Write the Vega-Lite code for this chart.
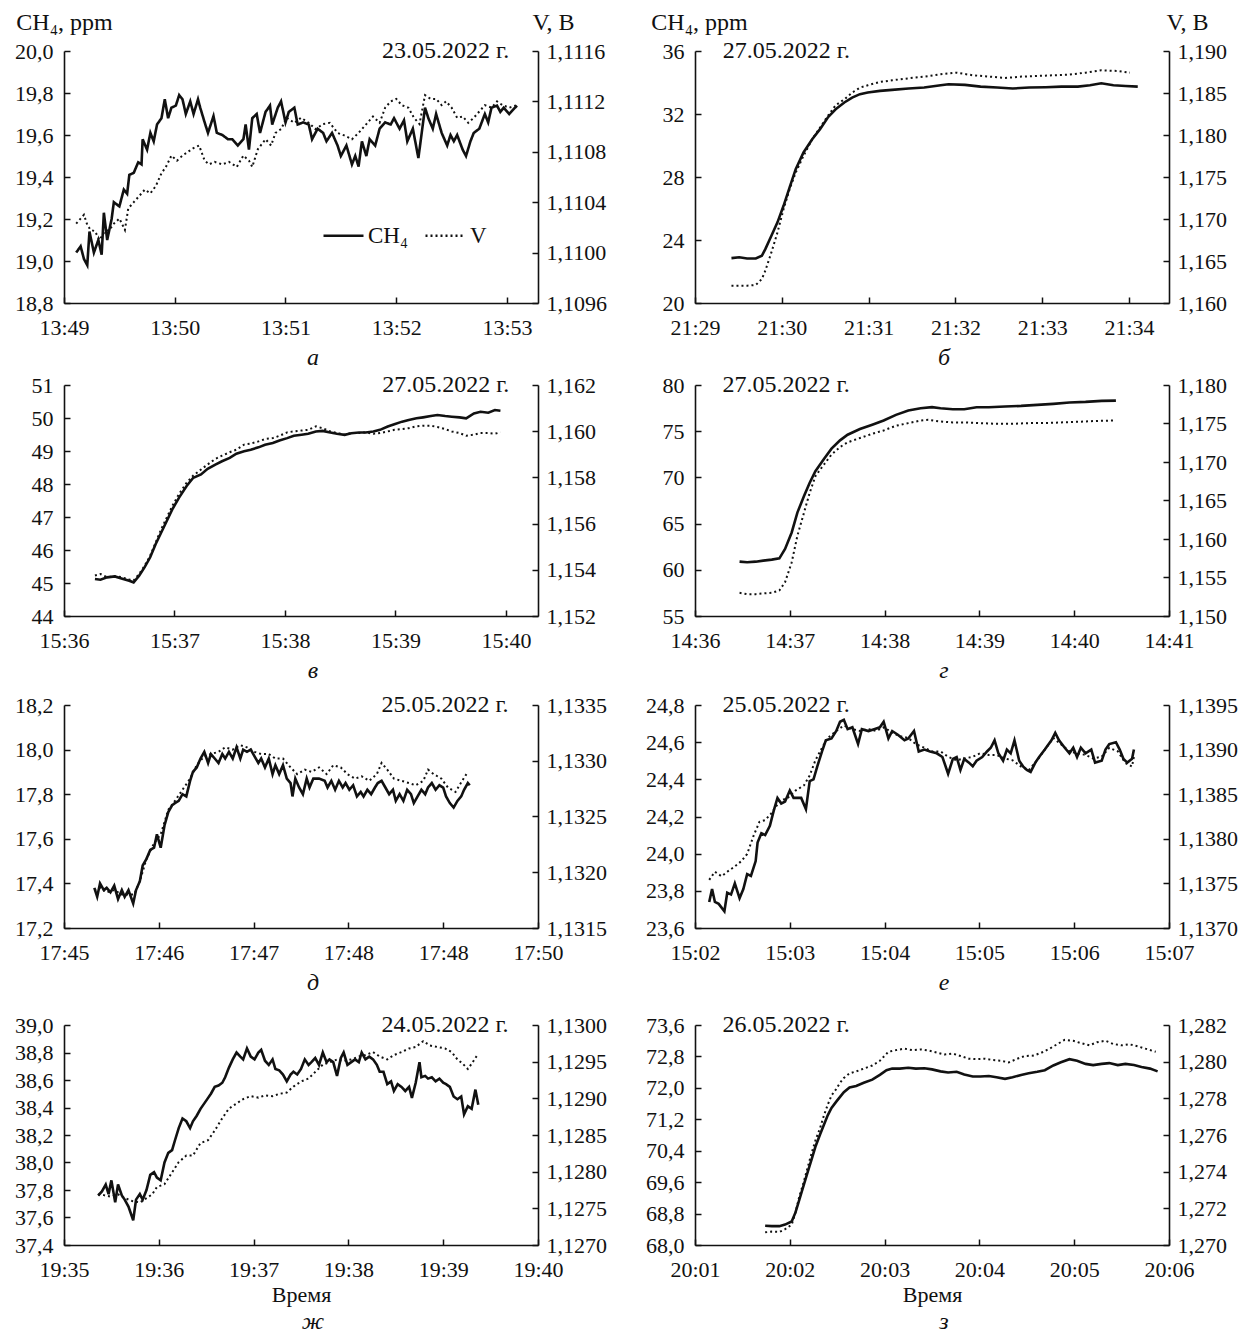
{
"$schema": "https://vega.github.io/schema/vega-lite/v6.json",
"background": "white",
"padding": {"left": 14, "top": 10, "right": 5, "bottom": 0},
"columns": 2,
"align": "each",
"spacing": {"row": 3, "column": 38},
"resolve": {"scale": {"x": "independent", "y": "independent"}},
"datasets": {
"a_c": [{"t":0.11,"y":19.04},{"t":0.15,"y":19.07},{"t":0.18,"y":19.01},{"t":0.21,"y":18.98},{"t":0.23,"y":19.14},{"t":0.27,"y":19.04},{"t":0.31,"y":19.10},{"t":0.34,"y":19.03},{"t":0.36,"y":19.23},{"t":0.39,"y":19.10},{"t":0.43,"y":19.20},{"t":0.45,"y":19.28},{"t":0.50,"y":19.26},{"t":0.54,"y":19.34},{"t":0.57,"y":19.32},{"t":0.59,"y":19.41},{"t":0.63,"y":19.42},{"t":0.67,"y":19.47},{"t":0.70,"y":19.46},{"t":0.71,"y":19.58},{"t":0.75,"y":19.53},{"t":0.78,"y":19.61},{"t":0.81,"y":19.57},{"t":0.84,"y":19.65},{"t":0.88,"y":19.68},{"t":0.91,"y":19.77},{"t":0.94,"y":19.68},{"t":0.97,"y":19.73},{"t":1.01,"y":19.74},{"t":1.04,"y":19.79},{"t":1.07,"y":19.77},{"t":1.10,"y":19.70},{"t":1.14,"y":19.76},{"t":1.17,"y":19.70},{"t":1.21,"y":19.77},{"t":1.23,"y":19.73},{"t":1.27,"y":19.66},{"t":1.30,"y":19.61},{"t":1.35,"y":19.69},{"t":1.38,"y":19.61},{"t":1.43,"y":19.60},{"t":1.48,"y":19.58},{"t":1.52,"y":19.58},{"t":1.57,"y":19.55},{"t":1.62,"y":19.58},{"t":1.64,"y":19.65},{"t":1.67,"y":19.53},{"t":1.70,"y":19.68},{"t":1.74,"y":19.70},{"t":1.77,"y":19.61},{"t":1.82,"y":19.71},{"t":1.86,"y":19.74},{"t":1.88,"y":19.65},{"t":1.93,"y":19.73},{"t":1.96,"y":19.76},{"t":2.00,"y":19.66},{"t":2.03,"y":19.71},{"t":2.08,"y":19.73},{"t":2.11,"y":19.65},{"t":2.16,"y":19.66},{"t":2.21,"y":19.65},{"t":2.24,"y":19.58},{"t":2.29,"y":19.63},{"t":2.34,"y":19.61},{"t":2.37,"y":19.57},{"t":2.42,"y":19.61},{"t":2.47,"y":19.55},{"t":2.50,"y":19.50},{"t":2.55,"y":19.55},{"t":2.60,"y":19.46},{"t":2.63,"y":19.50},{"t":2.66,"y":19.45},{"t":2.69,"y":19.57},{"t":2.73,"y":19.50},{"t":2.76,"y":19.58},{"t":2.81,"y":19.55},{"t":2.85,"y":19.63},{"t":2.90,"y":19.66},{"t":2.95,"y":19.65},{"t":2.98,"y":19.68},{"t":3.03,"y":19.63},{"t":3.07,"y":19.67},{"t":3.10,"y":19.57},{"t":3.15,"y":19.63},{"t":3.20,"y":19.49},{"t":3.23,"y":19.61},{"t":3.26,"y":19.73},{"t":3.29,"y":19.68},{"t":3.33,"y":19.63},{"t":3.36,"y":19.70},{"t":3.41,"y":19.61},{"t":3.46,"y":19.55},{"t":3.49,"y":19.60},{"t":3.52,"y":19.57},{"t":3.55,"y":19.60},{"t":3.60,"y":19.53},{"t":3.63,"y":19.50},{"t":3.67,"y":19.57},{"t":3.70,"y":19.61},{"t":3.75,"y":19.63},{"t":3.80,"y":19.70},{"t":3.83,"y":19.66},{"t":3.86,"y":19.73},{"t":3.91,"y":19.74},{"t":3.94,"y":19.71},{"t":3.97,"y":19.73},{"t":4.02,"y":19.70},{"t":4.09,"y":19.74}],
"a_v": [{"t":0.11,"y":1.11023},{"t":0.15,"y":1.11027},{"t":0.18,"y":1.1103},{"t":0.21,"y":1.11022},{"t":0.24,"y":1.11018},{"t":0.28,"y":1.11017},{"t":0.32,"y":1.1101},{"t":0.37,"y":1.11017},{"t":0.41,"y":1.11018},{"t":0.45,"y":1.11023},{"t":0.50,"y":1.11027},{"t":0.55,"y":1.11018},{"t":0.58,"y":1.11035},{"t":0.63,"y":1.1104},{"t":0.68,"y":1.11045},{"t":0.73,"y":1.1105},{"t":0.78,"y":1.11047},{"t":0.83,"y":1.11053},{"t":0.88,"y":1.11063},{"t":0.92,"y":1.11068},{"t":0.97,"y":1.11077},{"t":1.02,"y":1.11073},{"t":1.07,"y":1.11077},{"t":1.12,"y":1.1108},{"t":1.17,"y":1.11083},{"t":1.22,"y":1.11085},{"t":1.27,"y":1.11073},{"t":1.31,"y":1.1107},{"t":1.36,"y":1.11072},{"t":1.43,"y":1.1107},{"t":1.49,"y":1.11072},{"t":1.56,"y":1.11068},{"t":1.62,"y":1.11077},{"t":1.67,"y":1.11073},{"t":1.70,"y":1.11068},{"t":1.75,"y":1.11082},{"t":1.82,"y":1.1109},{"t":1.87,"y":1.11085},{"t":1.91,"y":1.11095},{"t":1.96,"y":1.11098},{"t":2.01,"y":1.11107},{"t":2.08,"y":1.11103},{"t":2.14,"y":1.11107},{"t":2.21,"y":1.11103},{"t":2.27,"y":1.11098},{"t":2.34,"y":1.11102},{"t":2.40,"y":1.11103},{"t":2.47,"y":1.11095},{"t":2.53,"y":1.11093},{"t":2.60,"y":1.1109},{"t":2.66,"y":1.11095},{"t":2.73,"y":1.11102},{"t":2.79,"y":1.11108},{"t":2.85,"y":1.11103},{"t":2.90,"y":1.11115},{"t":2.95,"y":1.1112},{"t":3.00,"y":1.11122},{"t":3.05,"y":1.11117},{"t":3.11,"y":1.11115},{"t":3.16,"y":1.11107},{"t":3.21,"y":1.11102},{"t":3.26,"y":1.11125},{"t":3.31,"y":1.11122},{"t":3.36,"y":1.11122},{"t":3.41,"y":1.11117},{"t":3.45,"y":1.1112},{"t":3.50,"y":1.11115},{"t":3.55,"y":1.11107},{"t":3.60,"y":1.11108},{"t":3.65,"y":1.11103},{"t":3.70,"y":1.11107},{"t":3.75,"y":1.11112},{"t":3.80,"y":1.11117},{"t":3.86,"y":1.11115},{"t":3.91,"y":1.1112},{"t":3.96,"y":1.11117},{"t":4.02,"y":1.11115},{"t":4.09,"y":1.11117}],
"b_c": [{"t":0.42,"y":22.85},{"t":0.51,"y":22.9},{"t":0.60,"y":22.83},{"t":0.70,"y":22.83},{"t":0.77,"y":23.0},{"t":0.81,"y":23.42},{"t":0.88,"y":24.27},{"t":0.95,"y":25.12},{"t":1.02,"y":26.17},{"t":1.09,"y":27.34},{"t":1.16,"y":28.5},{"t":1.25,"y":29.56},{"t":1.35,"y":30.4},{"t":1.44,"y":31.04},{"t":1.53,"y":31.78},{"t":1.62,"y":32.3},{"t":1.72,"y":32.73},{"t":1.81,"y":33.04},{"t":1.90,"y":33.26},{"t":1.99,"y":33.36},{"t":2.13,"y":33.47},{"t":2.27,"y":33.53},{"t":2.46,"y":33.62},{"t":2.64,"y":33.68},{"t":2.83,"y":33.83},{"t":2.92,"y":33.89},{"t":3.11,"y":33.85},{"t":3.29,"y":33.74},{"t":3.48,"y":33.68},{"t":3.66,"y":33.62},{"t":3.85,"y":33.68},{"t":4.04,"y":33.7},{"t":4.22,"y":33.74},{"t":4.41,"y":33.74},{"t":4.55,"y":33.83},{"t":4.68,"y":33.95},{"t":4.82,"y":33.83},{"t":4.96,"y":33.78},{"t":5.10,"y":33.74}],
"b_v": [{"t":0.42,"y":1.16206},{"t":0.51,"y":1.16206},{"t":0.60,"y":1.16206},{"t":0.70,"y":1.16214},{"t":0.77,"y":1.16285},{"t":0.81,"y":1.16384},{"t":0.88,"y":1.16602},{"t":0.95,"y":1.1684},{"t":1.02,"y":1.17118},{"t":1.09,"y":1.17355},{"t":1.16,"y":1.17553},{"t":1.25,"y":1.17752},{"t":1.35,"y":1.1795},{"t":1.44,"y":1.18088},{"t":1.53,"y":1.18227},{"t":1.62,"y":1.18354},{"t":1.72,"y":1.18425},{"t":1.81,"y":1.18505},{"t":1.90,"y":1.18564},{"t":1.99,"y":1.18592},{"t":2.13,"y":1.18631},{"t":2.27,"y":1.18651},{"t":2.46,"y":1.18675},{"t":2.64,"y":1.18695},{"t":2.83,"y":1.18723},{"t":3.01,"y":1.18742},{"t":3.20,"y":1.18711},{"t":3.39,"y":1.18695},{"t":3.57,"y":1.18679},{"t":3.76,"y":1.18695},{"t":3.94,"y":1.18703},{"t":4.13,"y":1.18711},{"t":4.31,"y":1.18719},{"t":4.50,"y":1.18742},{"t":4.68,"y":1.1877},{"t":4.87,"y":1.18762},{"t":5.01,"y":1.18742}],
"c_c": [{"t":0.28,"y":45.12},{"t":0.33,"y":45.10},{"t":0.39,"y":45.17},{"t":0.46,"y":45.20},{"t":0.52,"y":45.14},{"t":0.59,"y":45.07},{"t":0.63,"y":45.02},{"t":0.68,"y":45.22},{"t":0.73,"y":45.48},{"t":0.78,"y":45.78},{"t":0.83,"y":46.18},{"t":0.88,"y":46.53},{"t":0.93,"y":46.88},{"t":0.98,"y":47.23},{"t":1.04,"y":47.58},{"t":1.11,"y":47.94},{"t":1.17,"y":48.19},{"t":1.24,"y":48.29},{"t":1.30,"y":48.46},{"t":1.37,"y":48.59},{"t":1.43,"y":48.69},{"t":1.50,"y":48.79},{"t":1.56,"y":48.92},{"t":1.63,"y":48.99},{"t":1.69,"y":49.04},{"t":1.76,"y":49.11},{"t":1.82,"y":49.19},{"t":1.89,"y":49.24},{"t":1.95,"y":49.32},{"t":2.02,"y":49.39},{"t":2.08,"y":49.46},{"t":2.15,"y":49.49},{"t":2.21,"y":49.52},{"t":2.28,"y":49.59},{"t":2.34,"y":49.61},{"t":2.41,"y":49.56},{"t":2.47,"y":49.52},{"t":2.54,"y":49.49},{"t":2.60,"y":49.54},{"t":2.67,"y":49.56},{"t":2.73,"y":49.56},{"t":2.80,"y":49.59},{"t":2.86,"y":49.64},{"t":2.93,"y":49.74},{"t":2.99,"y":49.81},{"t":3.06,"y":49.89},{"t":3.12,"y":49.94},{"t":3.19,"y":49.99},{"t":3.25,"y":50.02},{"t":3.32,"y":50.06},{"t":3.38,"y":50.09},{"t":3.45,"y":50.06},{"t":3.51,"y":50.04},{"t":3.58,"y":50.02},{"t":3.64,"y":49.99},{"t":3.71,"y":50.14},{"t":3.77,"y":50.19},{"t":3.84,"y":50.16},{"t":3.90,"y":50.24},{"t":3.95,"y":50.22}],
"c_v": [{"t":0.28,"y":1.15375},{"t":0.33,"y":1.15382},{"t":0.39,"y":1.15368},{"t":0.46,"y":1.15372},{"t":0.52,"y":1.15368},{"t":0.59,"y":1.15358},{"t":0.63,"y":1.15354},{"t":0.68,"y":1.15382},{"t":0.73,"y":1.15418},{"t":0.78,"y":1.15461},{"t":0.83,"y":1.15519},{"t":0.88,"y":1.15576},{"t":0.93,"y":1.15626},{"t":0.98,"y":1.15676},{"t":1.04,"y":1.15727},{"t":1.11,"y":1.15777},{"t":1.17,"y":1.15808},{"t":1.24,"y":1.15834},{"t":1.30,"y":1.15856},{"t":1.37,"y":1.1588},{"t":1.43,"y":1.15894},{"t":1.50,"y":1.15909},{"t":1.56,"y":1.1592},{"t":1.63,"y":1.15942},{"t":1.69,"y":1.15946},{"t":1.76,"y":1.15956},{"t":1.82,"y":1.15966},{"t":1.89,"y":1.1597},{"t":1.95,"y":1.1598},{"t":2.02,"y":1.15995},{"t":2.08,"y":1.15999},{"t":2.15,"y":1.16003},{"t":2.21,"y":1.16006},{"t":2.28,"y":1.16021},{"t":2.34,"y":1.16013},{"t":2.41,"y":1.15999},{"t":2.47,"y":1.15992},{"t":2.54,"y":1.15985},{"t":2.60,"y":1.15992},{"t":2.67,"y":1.15992},{"t":2.73,"y":1.15995},{"t":2.80,"y":1.15989},{"t":2.86,"y":1.15992},{"t":2.93,"y":1.15999},{"t":2.99,"y":1.16006},{"t":3.06,"y":1.16009},{"t":3.12,"y":1.16013},{"t":3.19,"y":1.16021},{"t":3.25,"y":1.16024},{"t":3.32,"y":1.16024},{"t":3.38,"y":1.16018},{"t":3.45,"y":1.16009},{"t":3.51,"y":1.15999},{"t":3.58,"y":1.15992},{"t":3.64,"y":1.1598},{"t":3.71,"y":1.15985},{"t":3.77,"y":1.15992},{"t":3.84,"y":1.15992},{"t":3.90,"y":1.15989},{"t":3.95,"y":1.15995}],
"d_c": [{"t":0.47,"y":60.88},{"t":0.55,"y":60.81},{"t":0.64,"y":60.88},{"t":0.72,"y":60.99},{"t":0.81,"y":61.10},{"t":0.89,"y":61.24},{"t":0.95,"y":62.25},{"t":1.02,"y":64.04},{"t":1.08,"y":66.19},{"t":1.15,"y":67.98},{"t":1.21,"y":69.42},{"t":1.27,"y":70.67},{"t":1.36,"y":72.0},{"t":1.44,"y":73.11},{"t":1.53,"y":74.01},{"t":1.61,"y":74.62},{"t":1.74,"y":75.23},{"t":1.87,"y":75.7},{"t":1.99,"y":76.16},{"t":2.12,"y":76.77},{"t":2.25,"y":77.24},{"t":2.38,"y":77.49},{"t":2.50,"y":77.6},{"t":2.59,"y":77.49},{"t":2.72,"y":77.38},{"t":2.84,"y":77.38},{"t":2.97,"y":77.6},{"t":3.10,"y":77.6},{"t":3.27,"y":77.67},{"t":3.44,"y":77.74},{"t":3.61,"y":77.85},{"t":3.78,"y":77.96},{"t":3.95,"y":78.1},{"t":4.12,"y":78.17},{"t":4.29,"y":78.28},{"t":4.44,"y":78.31}],
"d_v": [{"t":0.47,"y":1.15301},{"t":0.55,"y":1.15284},{"t":0.64,"y":1.15284},{"t":0.72,"y":1.15293},{"t":0.81,"y":1.15301},{"t":0.89,"y":1.15331},{"t":0.95,"y":1.15439},{"t":1.02,"y":1.15697},{"t":1.08,"y":1.16042},{"t":1.15,"y":1.16343},{"t":1.21,"y":1.16601},{"t":1.27,"y":1.16816},{"t":1.36,"y":1.16967},{"t":1.44,"y":1.17096},{"t":1.53,"y":1.17195},{"t":1.61,"y":1.17255},{"t":1.74,"y":1.17311},{"t":1.87,"y":1.17367},{"t":1.99,"y":1.1741},{"t":2.12,"y":1.17471},{"t":2.25,"y":1.17505},{"t":2.38,"y":1.17539},{"t":2.46,"y":1.17548},{"t":2.59,"y":1.17526},{"t":2.72,"y":1.17514},{"t":2.84,"y":1.17514},{"t":3.01,"y":1.17505},{"t":3.18,"y":1.17496},{"t":3.35,"y":1.17496},{"t":3.52,"y":1.17505},{"t":3.69,"y":1.17505},{"t":3.86,"y":1.17514},{"t":4.03,"y":1.17522},{"t":4.20,"y":1.17531},{"t":4.41,"y":1.17539}],
"e_c": [{"t":0.32,"y":17.38},{"t":0.35,"y":17.34},{"t":0.38,"y":17.40},{"t":0.42,"y":17.37},{"t":0.45,"y":17.38},{"t":0.49,"y":17.36},{"t":0.53,"y":17.39},{"t":0.57,"y":17.33},{"t":0.61,"y":17.37},{"t":0.64,"y":17.34},{"t":0.68,"y":17.37},{"t":0.73,"y":17.31},{"t":0.76,"y":17.37},{"t":0.80,"y":17.41},{"t":0.83,"y":17.48},{"t":0.87,"y":17.51},{"t":0.91,"y":17.55},{"t":0.95,"y":17.56},{"t":0.98,"y":17.62},{"t":1.02,"y":17.56},{"t":1.06,"y":17.66},{"t":1.10,"y":17.72},{"t":1.14,"y":17.75},{"t":1.17,"y":17.76},{"t":1.21,"y":17.77},{"t":1.25,"y":17.80},{"t":1.29,"y":17.79},{"t":1.33,"y":17.86},{"t":1.36,"y":17.90},{"t":1.40,"y":17.92},{"t":1.44,"y":17.96},{"t":1.48,"y":17.99},{"t":1.52,"y":17.94},{"t":1.55,"y":17.98},{"t":1.59,"y":17.96},{"t":1.63,"y":17.94},{"t":1.67,"y":17.98},{"t":1.70,"y":17.96},{"t":1.74,"y":17.99},{"t":1.78,"y":17.96},{"t":1.82,"y":18.01},{"t":1.86,"y":17.96},{"t":1.89,"y":18.00},{"t":1.93,"y":17.99},{"t":1.97,"y":18.00},{"t":2.01,"y":17.97},{"t":2.05,"y":17.94},{"t":2.08,"y":17.96},{"t":2.12,"y":17.92},{"t":2.16,"y":17.96},{"t":2.20,"y":17.89},{"t":2.23,"y":17.93},{"t":2.27,"y":17.89},{"t":2.31,"y":17.93},{"t":2.35,"y":17.87},{"t":2.39,"y":17.85},{"t":2.41,"y":17.79},{"t":2.44,"y":17.87},{"t":2.48,"y":17.83},{"t":2.52,"y":17.80},{"t":2.56,"y":17.87},{"t":2.59,"y":17.83},{"t":2.63,"y":17.87},{"t":2.69,"y":17.87},{"t":2.75,"y":17.86},{"t":2.78,"y":17.83},{"t":2.82,"y":17.86},{"t":2.86,"y":17.82},{"t":2.90,"y":17.86},{"t":2.94,"y":17.83},{"t":2.97,"y":17.85},{"t":3.01,"y":17.82},{"t":3.05,"y":17.84},{"t":3.09,"y":17.79},{"t":3.13,"y":17.81},{"t":3.16,"y":17.79},{"t":3.20,"y":17.82},{"t":3.24,"y":17.80},{"t":3.28,"y":17.83},{"t":3.31,"y":17.85},{"t":3.35,"y":17.86},{"t":3.39,"y":17.83},{"t":3.43,"y":17.80},{"t":3.47,"y":17.82},{"t":3.50,"y":17.77},{"t":3.54,"y":17.80},{"t":3.58,"y":17.77},{"t":3.62,"y":17.82},{"t":3.66,"y":17.80},{"t":3.69,"y":17.76},{"t":3.73,"y":17.79},{"t":3.77,"y":17.82},{"t":3.81,"y":17.80},{"t":3.84,"y":17.83},{"t":3.88,"y":17.85},{"t":3.92,"y":17.82},{"t":3.96,"y":17.84},{"t":4.00,"y":17.83},{"t":4.03,"y":17.79},{"t":4.07,"y":17.76},{"t":4.11,"y":17.74},{"t":4.15,"y":17.77},{"t":4.19,"y":17.79},{"t":4.22,"y":17.82},{"t":4.26,"y":17.85},{"t":4.28,"y":17.84}],
"e_v": [{"t":0.32,"y":1.13184},{"t":0.38,"y":1.13186},{"t":0.45,"y":1.13182},{"t":0.53,"y":1.13184},{"t":0.61,"y":1.1318},{"t":0.68,"y":1.1318},{"t":0.74,"y":1.1318},{"t":0.80,"y":1.13192},{"t":0.87,"y":1.13212},{"t":0.95,"y":1.13226},{"t":1.02,"y":1.13234},{"t":1.10,"y":1.13256},{"t":1.17,"y":1.13264},{"t":1.25,"y":1.13274},{"t":1.33,"y":1.13284},{"t":1.40,"y":1.13296},{"t":1.48,"y":1.13304},{"t":1.55,"y":1.13306},{"t":1.63,"y":1.13308},{"t":1.70,"y":1.13312},{"t":1.78,"y":1.1331},{"t":1.86,"y":1.13314},{"t":1.93,"y":1.13312},{"t":2.01,"y":1.13308},{"t":2.08,"y":1.13306},{"t":2.16,"y":1.13306},{"t":2.23,"y":1.13302},{"t":2.31,"y":1.13302},{"t":2.39,"y":1.13294},{"t":2.46,"y":1.13288},{"t":2.54,"y":1.13292},{"t":2.61,"y":1.1329},{"t":2.69,"y":1.13294},{"t":2.77,"y":1.13288},{"t":2.84,"y":1.13296},{"t":2.92,"y":1.13294},{"t":2.99,"y":1.13288},{"t":3.07,"y":1.13284},{"t":3.14,"y":1.13286},{"t":3.22,"y":1.13282},{"t":3.30,"y":1.13288},{"t":3.35,"y":1.13298},{"t":3.41,"y":1.13292},{"t":3.48,"y":1.13284},{"t":3.56,"y":1.13282},{"t":3.64,"y":1.1328},{"t":3.71,"y":1.13278},{"t":3.79,"y":1.13282},{"t":3.84,"y":1.13292},{"t":3.90,"y":1.13288},{"t":3.98,"y":1.13284},{"t":4.05,"y":1.13276},{"t":4.13,"y":1.13272},{"t":4.20,"y":1.13282},{"t":4.26,"y":1.1329}],
"f_c": [{"t":0.15,"y":23.74},{"t":0.18,"y":23.81},{"t":0.21,"y":23.74},{"t":0.25,"y":23.73},{"t":0.31,"y":23.69},{"t":0.34,"y":23.79},{"t":0.38,"y":23.78},{"t":0.42,"y":23.84},{"t":0.47,"y":23.76},{"t":0.51,"y":23.81},{"t":0.55,"y":23.89},{"t":0.59,"y":23.88},{"t":0.64,"y":23.96},{"t":0.66,"y":24.06},{"t":0.70,"y":24.11},{"t":0.74,"y":24.10},{"t":0.79,"y":24.15},{"t":0.83,"y":24.23},{"t":0.87,"y":24.30},{"t":0.91,"y":24.27},{"t":0.95,"y":24.28},{"t":1.00,"y":24.34},{"t":1.04,"y":24.30},{"t":1.08,"y":24.30},{"t":1.12,"y":24.30},{"t":1.17,"y":24.24},{"t":1.21,"y":24.39},{"t":1.25,"y":24.40},{"t":1.29,"y":24.47},{"t":1.34,"y":24.55},{"t":1.38,"y":24.61},{"t":1.44,"y":24.62},{"t":1.49,"y":24.66},{"t":1.53,"y":24.71},{"t":1.57,"y":24.72},{"t":1.61,"y":24.67},{"t":1.66,"y":24.68},{"t":1.72,"y":24.59},{"t":1.76,"y":24.67},{"t":1.83,"y":24.66},{"t":1.89,"y":24.67},{"t":1.95,"y":24.68},{"t":1.99,"y":24.71},{"t":2.04,"y":24.62},{"t":2.08,"y":24.66},{"t":2.14,"y":24.64},{"t":2.21,"y":24.61},{"t":2.25,"y":24.62},{"t":2.31,"y":24.66},{"t":2.36,"y":24.55},{"t":2.42,"y":24.56},{"t":2.48,"y":24.55},{"t":2.55,"y":24.54},{"t":2.61,"y":24.52},{"t":2.67,"y":24.43},{"t":2.72,"y":24.51},{"t":2.76,"y":24.52},{"t":2.80,"y":24.45},{"t":2.84,"y":24.51},{"t":2.89,"y":24.49},{"t":2.93,"y":24.47},{"t":2.97,"y":24.50},{"t":3.03,"y":24.52},{"t":3.08,"y":24.55},{"t":3.12,"y":24.57},{"t":3.16,"y":24.61},{"t":3.20,"y":24.54},{"t":3.25,"y":24.50},{"t":3.29,"y":24.56},{"t":3.33,"y":24.54},{"t":3.37,"y":24.61},{"t":3.42,"y":24.50},{"t":3.46,"y":24.47},{"t":3.50,"y":24.45},{"t":3.54,"y":24.44},{"t":3.59,"y":24.49},{"t":3.63,"y":24.52},{"t":3.69,"y":24.56},{"t":3.76,"y":24.61},{"t":3.80,"y":24.65},{"t":3.84,"y":24.61},{"t":3.90,"y":24.57},{"t":3.95,"y":24.54},{"t":3.99,"y":24.57},{"t":4.03,"y":24.52},{"t":4.07,"y":24.57},{"t":4.12,"y":24.54},{"t":4.18,"y":24.56},{"t":4.22,"y":24.49},{"t":4.29,"y":24.50},{"t":4.33,"y":24.56},{"t":4.37,"y":24.59},{"t":4.44,"y":24.60},{"t":4.48,"y":24.56},{"t":4.52,"y":24.51},{"t":4.56,"y":24.49},{"t":4.61,"y":24.51},{"t":4.63,"y":24.56}],
"f_v": [{"t":0.15,"y":1.13754},{"t":0.21,"y":1.13763},{"t":0.28,"y":1.13758},{"t":0.34,"y":1.13763},{"t":0.42,"y":1.13769},{"t":0.49,"y":1.13775},{"t":0.55,"y":1.13783},{"t":0.62,"y":1.13804},{"t":0.68,"y":1.13819},{"t":0.74,"y":1.13821},{"t":0.81,"y":1.13829},{"t":0.89,"y":1.13842},{"t":0.98,"y":1.13846},{"t":1.06,"y":1.13854},{"t":1.15,"y":1.1386},{"t":1.21,"y":1.13871},{"t":1.27,"y":1.13888},{"t":1.34,"y":1.13902},{"t":1.40,"y":1.13913},{"t":1.49,"y":1.13921},{"t":1.57,"y":1.13927},{"t":1.66,"y":1.13923},{"t":1.74,"y":1.13921},{"t":1.83,"y":1.13923},{"t":1.91,"y":1.13921},{"t":1.99,"y":1.13925},{"t":2.08,"y":1.13919},{"t":2.16,"y":1.13915},{"t":2.25,"y":1.13913},{"t":2.33,"y":1.13906},{"t":2.42,"y":1.13902},{"t":2.50,"y":1.13898},{"t":2.59,"y":1.13898},{"t":2.67,"y":1.13892},{"t":2.76,"y":1.13888},{"t":2.84,"y":1.1389},{"t":2.93,"y":1.13892},{"t":3.01,"y":1.13896},{"t":3.10,"y":1.13894},{"t":3.18,"y":1.13894},{"t":3.27,"y":1.1389},{"t":3.35,"y":1.13888},{"t":3.44,"y":1.13881},{"t":3.52,"y":1.13877},{"t":3.61,"y":1.13888},{"t":3.69,"y":1.139},{"t":3.78,"y":1.13913},{"t":3.86,"y":1.13906},{"t":3.95,"y":1.13898},{"t":4.03,"y":1.13896},{"t":4.12,"y":1.13894},{"t":4.20,"y":1.1389},{"t":4.29,"y":1.13892},{"t":4.37,"y":1.13902},{"t":4.46,"y":1.13898},{"t":4.54,"y":1.13885},{"t":4.61,"y":1.13881},{"t":4.63,"y":1.13892}],
"g_c": [{"t":0.36,"y":37.76},{"t":0.40,"y":37.79},{"t":0.44,"y":37.84},{"t":0.47,"y":37.77},{"t":0.50,"y":37.87},{"t":0.54,"y":37.71},{"t":0.57,"y":37.84},{"t":0.61,"y":37.76},{"t":0.64,"y":37.73},{"t":0.68,"y":37.68},{"t":0.73,"y":37.58},{"t":0.76,"y":37.73},{"t":0.80,"y":37.77},{"t":0.83,"y":37.73},{"t":0.87,"y":37.80},{"t":0.91,"y":37.91},{"t":0.95,"y":37.93},{"t":0.98,"y":37.89},{"t":1.02,"y":37.87},{"t":1.06,"y":38.00},{"t":1.10,"y":38.07},{"t":1.14,"y":38.09},{"t":1.17,"y":38.16},{"t":1.21,"y":38.25},{"t":1.25,"y":38.32},{"t":1.29,"y":38.30},{"t":1.33,"y":38.25},{"t":1.36,"y":38.30},{"t":1.40,"y":38.34},{"t":1.44,"y":38.39},{"t":1.48,"y":38.43},{"t":1.52,"y":38.47},{"t":1.55,"y":38.50},{"t":1.59,"y":38.55},{"t":1.63,"y":38.56},{"t":1.67,"y":38.58},{"t":1.70,"y":38.62},{"t":1.74,"y":38.69},{"t":1.78,"y":38.75},{"t":1.82,"y":38.80},{"t":1.86,"y":38.77},{"t":1.89,"y":38.75},{"t":1.93,"y":38.83},{"t":1.97,"y":38.77},{"t":2.01,"y":38.75},{"t":2.05,"y":38.80},{"t":2.08,"y":38.82},{"t":2.12,"y":38.74},{"t":2.16,"y":38.71},{"t":2.20,"y":38.75},{"t":2.23,"y":38.68},{"t":2.27,"y":38.67},{"t":2.31,"y":38.64},{"t":2.35,"y":38.59},{"t":2.39,"y":38.64},{"t":2.42,"y":38.66},{"t":2.46,"y":38.64},{"t":2.50,"y":38.68},{"t":2.54,"y":38.75},{"t":2.58,"y":38.71},{"t":2.61,"y":38.73},{"t":2.65,"y":38.76},{"t":2.69,"y":38.71},{"t":2.73,"y":38.80},{"t":2.77,"y":38.73},{"t":2.80,"y":38.75},{"t":2.84,"y":38.73},{"t":2.88,"y":38.63},{"t":2.92,"y":38.76},{"t":2.95,"y":38.80},{"t":2.99,"y":38.71},{"t":3.03,"y":38.73},{"t":3.07,"y":38.75},{"t":3.11,"y":38.73},{"t":3.14,"y":38.80},{"t":3.18,"y":38.75},{"t":3.22,"y":38.77},{"t":3.26,"y":38.75},{"t":3.30,"y":38.71},{"t":3.33,"y":38.66},{"t":3.37,"y":38.66},{"t":3.41,"y":38.57},{"t":3.45,"y":38.59},{"t":3.48,"y":38.52},{"t":3.52,"y":38.57},{"t":3.56,"y":38.55},{"t":3.60,"y":38.52},{"t":3.64,"y":38.55},{"t":3.67,"y":38.47},{"t":3.71,"y":38.58},{"t":3.75,"y":38.73},{"t":3.77,"y":38.62},{"t":3.81,"y":38.63},{"t":3.84,"y":38.61},{"t":3.88,"y":38.62},{"t":3.92,"y":38.59},{"t":3.96,"y":38.61},{"t":4.00,"y":38.58},{"t":4.03,"y":38.57},{"t":4.07,"y":38.55},{"t":4.11,"y":38.48},{"t":4.15,"y":38.46},{"t":4.19,"y":38.48},{"t":4.22,"y":38.35},{"t":4.26,"y":38.41},{"t":4.30,"y":38.39},{"t":4.34,"y":38.53},{"t":4.37,"y":38.42}],
"g_v": [{"t":0.36,"y":1.12769},{"t":0.42,"y":1.12768},{"t":0.49,"y":1.12766},{"t":0.57,"y":1.12769},{"t":0.64,"y":1.12764},{"t":0.72,"y":1.1276},{"t":0.80,"y":1.12758},{"t":0.87,"y":1.12764},{"t":0.93,"y":1.12769},{"t":0.98,"y":1.12779},{"t":1.06,"y":1.12783},{"t":1.14,"y":1.12799},{"t":1.21,"y":1.12813},{"t":1.29,"y":1.12822},{"t":1.36,"y":1.12822},{"t":1.44,"y":1.12839},{"t":1.52,"y":1.12843},{"t":1.59,"y":1.12856},{"t":1.67,"y":1.12873},{"t":1.74,"y":1.12886},{"t":1.82,"y":1.12893},{"t":1.89,"y":1.12899},{"t":1.97,"y":1.12903},{"t":2.05,"y":1.12901},{"t":2.12,"y":1.12904},{"t":2.20,"y":1.12903},{"t":2.27,"y":1.12906},{"t":2.35,"y":1.12908},{"t":2.42,"y":1.12916},{"t":2.50,"y":1.12923},{"t":2.58,"y":1.12927},{"t":2.65,"y":1.12936},{"t":2.73,"y":1.12946},{"t":2.80,"y":1.12949},{"t":2.88,"y":1.12953},{"t":2.95,"y":1.12951},{"t":3.03,"y":1.12953},{"t":3.11,"y":1.12957},{"t":3.18,"y":1.12959},{"t":3.26,"y":1.12963},{"t":3.33,"y":1.12957},{"t":3.41,"y":1.12953},{"t":3.48,"y":1.12959},{"t":3.56,"y":1.12963},{"t":3.64,"y":1.12968},{"t":3.71,"y":1.1297},{"t":3.79,"y":1.12978},{"t":3.86,"y":1.12972},{"t":3.94,"y":1.1297},{"t":4.02,"y":1.12968},{"t":4.09,"y":1.12963},{"t":4.15,"y":1.12953},{"t":4.20,"y":1.12948},{"t":4.26,"y":1.1294},{"t":4.31,"y":1.12949},{"t":4.36,"y":1.12959}],
"h_c": [{"t":0.74,"y":68.49},{"t":0.81,"y":68.48},{"t":0.89,"y":68.48},{"t":0.95,"y":68.52},{"t":1.02,"y":68.6},{"t":1.06,"y":68.83},{"t":1.10,"y":69.15},{"t":1.15,"y":69.55},{"t":1.19,"y":69.87},{"t":1.23,"y":70.18},{"t":1.27,"y":70.5},{"t":1.32,"y":70.82},{"t":1.36,"y":71.06},{"t":1.40,"y":71.3},{"t":1.44,"y":71.49},{"t":1.49,"y":71.65},{"t":1.53,"y":71.77},{"t":1.57,"y":71.89},{"t":1.63,"y":72.01},{"t":1.70,"y":72.05},{"t":1.78,"y":72.13},{"t":1.87,"y":72.21},{"t":1.95,"y":72.33},{"t":2.02,"y":72.45},{"t":2.08,"y":72.49},{"t":2.16,"y":72.49},{"t":2.25,"y":72.51},{"t":2.33,"y":72.49},{"t":2.42,"y":72.5},{"t":2.50,"y":72.47},{"t":2.59,"y":72.42},{"t":2.67,"y":72.39},{"t":2.76,"y":72.41},{"t":2.84,"y":72.34},{"t":2.93,"y":72.29},{"t":3.01,"y":72.29},{"t":3.10,"y":72.3},{"t":3.18,"y":72.27},{"t":3.27,"y":72.23},{"t":3.35,"y":72.27},{"t":3.44,"y":72.33},{"t":3.52,"y":72.37},{"t":3.61,"y":72.41},{"t":3.69,"y":72.45},{"t":3.78,"y":72.57},{"t":3.86,"y":72.65},{"t":3.95,"y":72.73},{"t":4.03,"y":72.69},{"t":4.12,"y":72.61},{"t":4.20,"y":72.58},{"t":4.29,"y":72.61},{"t":4.37,"y":72.63},{"t":4.46,"y":72.58},{"t":4.54,"y":72.61},{"t":4.63,"y":72.58},{"t":4.71,"y":72.53},{"t":4.80,"y":72.49},{"t":4.88,"y":72.42}],
"h_v": [{"t":0.74,"y":1.27069},{"t":0.81,"y":1.27073},{"t":0.89,"y":1.27071},{"t":0.95,"y":1.27086},{"t":1.02,"y":1.27111},{"t":1.06,"y":1.27178},{"t":1.10,"y":1.27264},{"t":1.15,"y":1.27349},{"t":1.19,"y":1.27426},{"t":1.23,"y":1.27501},{"t":1.27,"y":1.2757},{"t":1.32,"y":1.27639},{"t":1.36,"y":1.27707},{"t":1.40,"y":1.27765},{"t":1.44,"y":1.27816},{"t":1.49,"y":1.27851},{"t":1.53,"y":1.27885},{"t":1.57,"y":1.27911},{"t":1.63,"y":1.27936},{"t":1.70,"y":1.27947},{"t":1.78,"y":1.27962},{"t":1.87,"y":1.27979},{"t":1.95,"y":1.28005},{"t":2.04,"y":1.28054},{"t":2.12,"y":1.28063},{"t":2.21,"y":1.28071},{"t":2.29,"y":1.28063},{"t":2.38,"y":1.28067},{"t":2.46,"y":1.28061},{"t":2.55,"y":1.2805},{"t":2.63,"y":1.28039},{"t":2.72,"y":1.28044},{"t":2.80,"y":1.28031},{"t":2.89,"y":1.28016},{"t":2.97,"y":1.28014},{"t":3.06,"y":1.28016},{"t":3.14,"y":1.28009},{"t":3.23,"y":1.28005},{"t":3.31,"y":1.27996},{"t":3.40,"y":1.28016},{"t":3.48,"y":1.28031},{"t":3.57,"y":1.28033},{"t":3.65,"y":1.28048},{"t":3.74,"y":1.28071},{"t":3.82,"y":1.28095},{"t":3.90,"y":1.28119},{"t":3.99,"y":1.28114},{"t":4.07,"y":1.28101},{"t":4.16,"y":1.28089},{"t":4.24,"y":1.28106},{"t":4.33,"y":1.28114},{"t":4.41,"y":1.28097},{"t":4.50,"y":1.28089},{"t":4.58,"y":1.28095},{"t":4.67,"y":1.28084},{"t":4.75,"y":1.28071},{"t":4.86,"y":1.28054}]
},
"concat": [
{"width":474,"height":252,"title":{"text":"а"},
 "layer":[
  {"data":{"name":"a_c"},"mark":{"type":"line","color":"#111","strokeWidth":2.6},
   "encoding":{
    "x":{"field":"t","type":"quantitative","scale":{"domain":[0,4.28],"nice":false,"zero":false},"axis":{"values":[0,1,2,3,4],"labelExpr":"'13:' + (49 + datum.value)","title":null}},
    "y":{"field":"y","type":"quantitative","scale":{"domain":[18.8,20.0],"nice":false,"zero":false},"axis":{"orient":"left","values":[18.8,19.0,19.2,19.4,19.6,19.8,20.0],"labelExpr":"replace(format(datum.value,'.1f'),'.',',')","title":"CH₄, ppm","titleFontSize":24,"titleAngle":0,"titleX":0,"titleY":-29,"titleAlign":"center","titleBaseline":"middle"}},
    "strokeDash":{"datum":"CH₄","scale":{"domain":["CH₄","V"],"range":[[1,0],[2,3]]},"legend":{"orient":"none","legendX":258,"legendY":163,"direction":"horizontal","title":null,"symbolType":"stroke","symbolSize":1600,"symbolStrokeWidth":2.5,"symbolStrokeColor":"#111","labelFont":"Liberation Serif","labelFontSize":23,"labelColor":"#111","columnPadding":12,"labelOffset":3}}}},
  {"data":{"name":"a_v"},"mark":{"type":"line","color":"#111","strokeWidth":2},
   "encoding":{
    "x":{"field":"t","type":"quantitative"},
    "y":{"field":"y","type":"quantitative","scale":{"domain":[1.1096,1.1116],"nice":false,"zero":false},"axis":{"orient":"right","values":[1.1096,1.11,1.1104,1.1108,1.1112,1.1116],"labelExpr":"replace(format(datum.value,'.4f'),'.',',')","title":"V, В","titleFontSize":24,"titleAngle":0,"titleX":15,"titleY":-29,"titleAlign":"center","titleBaseline":"middle"}},
    "strokeDash":{"datum":"V"}}},
  {"data":{"values":[{}]},"mark":{"type":"text","font":"Liberation Serif","fontSize":24,"align":"right","baseline":"middle","color":"#111"},
   "encoding":{"x":{"datum":4.02,"type":"quantitative"},"y":{"datum":20.0,"type":"quantitative","scale":{"domain":[18.8,20.0],"nice":false,"zero":false},"axis":null},"text":{"value":"23.05.2022 г."}}}
 ],
 "resolve":{"scale":{"y":"independent"}}},
{"width":474,"height":252,"title":{"text":"б"},
 "layer":[
  {"data":{"name":"b_c"},"mark":{"type":"line","color":"#111","strokeWidth":2.6},
   "encoding":{
    "x":{"field":"t","type":"quantitative","scale":{"domain":[0,5.46],"nice":false,"zero":false},"axis":{"values":[0,1,2,3,4,5],"labelExpr":"'21:' + (29 + datum.value)","title":null}},
    "y":{"field":"y","type":"quantitative","scale":{"domain":[20,36],"nice":false,"zero":false},"axis":{"orient":"left","values":[20,24,28,32,36],"labelExpr":"format(datum.value,'.0f')","title":"CH₄, ppm","titleFontSize":24,"titleAngle":0,"titleX":4,"titleY":-29,"titleAlign":"center","titleBaseline":"middle"}}}},
  {"data":{"name":"b_v"},"mark":{"type":"line","color":"#111","strokeWidth":2,"strokeDash":[2,3]},
   "encoding":{
    "x":{"field":"t","type":"quantitative"},
    "y":{"field":"y","type":"quantitative","scale":{"domain":[1.16,1.19],"nice":false,"zero":false},"axis":{"orient":"right","values":[1.16,1.165,1.17,1.175,1.18,1.185,1.19],"labelExpr":"replace(format(datum.value,'.3f'),'.',',')","title":"V, В","titleFontSize":24,"titleAngle":0,"titleX":18,"titleY":-29,"titleAlign":"center","titleBaseline":"middle"}}}},
  {"data":{"values":[{}]},"mark":{"type":"text","font":"Liberation Serif","fontSize":24,"align":"left","baseline":"middle","color":"#111"},
   "encoding":{"x":{"datum":0.32,"type":"quantitative"},"y":{"datum":36,"type":"quantitative","scale":{"domain":[20,36],"nice":false,"zero":false},"axis":null},"text":{"value":"27.05.2022 г."}}}
 ],
 "resolve":{"scale":{"y":"independent"}}},
{"width":474,"height":231,"title":{"text":"в","subtitle":" ","subtitleFontSize":7,"subtitlePadding":0},
 "layer":[
  {"data":{"name":"c_c"},"mark":{"type":"line","color":"#111","strokeWidth":2.6},
   "encoding":{
    "x":{"field":"t","type":"quantitative","scale":{"domain":[0,4.29],"nice":false,"zero":false},"axis":{"values":[0,1,2,3,4],"labelExpr":"'15:' + (36 + datum.value)","title":null}},
    "y":{"field":"y","type":"quantitative","scale":{"domain":[44,51],"nice":false,"zero":false},"axis":{"orient":"left","values":[44,45,46,47,48,49,50,51],"labelExpr":"format(datum.value,'.0f')","title":null}}}},
  {"data":{"name":"c_v"},"mark":{"type":"line","color":"#111","strokeWidth":2,"strokeDash":[2,3]},
   "encoding":{
    "x":{"field":"t","type":"quantitative"},
    "y":{"field":"y","type":"quantitative","scale":{"domain":[1.152,1.162],"nice":false,"zero":false},"axis":{"orient":"right","values":[1.152,1.154,1.156,1.158,1.16,1.162],"labelExpr":"replace(format(datum.value,'.3f'),'.',',')","title":null}}}},
  {"data":{"values":[{}]},"mark":{"type":"text","font":"Liberation Serif","fontSize":24,"align":"right","baseline":"middle","color":"#111"},
   "encoding":{"x":{"datum":4.03,"type":"quantitative"},"y":{"datum":51,"type":"quantitative","scale":{"domain":[44,51],"nice":false,"zero":false},"axis":null},"text":{"value":"27.05.2022 г."}}}
 ],
 "resolve":{"scale":{"y":"independent"}}},
{"width":474,"height":231,"title":{"text":"г","subtitle":" ","subtitleFontSize":7,"subtitlePadding":0},
 "layer":[
  {"data":{"name":"d_c"},"mark":{"type":"line","color":"#111","strokeWidth":2.6},
   "encoding":{
    "x":{"field":"t","type":"quantitative","scale":{"domain":[0,5],"nice":false,"zero":false},"axis":{"values":[0,1,2,3,4,5],"labelExpr":"'14:' + (36 + datum.value)","title":null}},
    "y":{"field":"y","type":"quantitative","scale":{"domain":[55,80],"nice":false,"zero":false},"axis":{"orient":"left","values":[55,60,65,70,75,80],"labelExpr":"format(datum.value,'.0f')","title":null}}}},
  {"data":{"name":"d_v"},"mark":{"type":"line","color":"#111","strokeWidth":2,"strokeDash":[2,3]},
   "encoding":{
    "x":{"field":"t","type":"quantitative"},
    "y":{"field":"y","type":"quantitative","scale":{"domain":[1.15,1.18],"nice":false,"zero":false},"axis":{"orient":"right","values":[1.15,1.155,1.16,1.165,1.17,1.175,1.18],"labelExpr":"replace(format(datum.value,'.3f'),'.',',')","title":null}}}},
  {"data":{"values":[{}]},"mark":{"type":"text","font":"Liberation Serif","fontSize":24,"align":"left","baseline":"middle","color":"#111"},
   "encoding":{"x":{"datum":0.29,"type":"quantitative"},"y":{"datum":80,"type":"quantitative","scale":{"domain":[55,80],"nice":false,"zero":false},"axis":null},"text":{"value":"27.05.2022 г."}}}
 ],
 "resolve":{"scale":{"y":"independent"}}},
{"width":474,"height":223,"title":{"text":"д","subtitle":" ","subtitleFontSize":15,"subtitlePadding":0},
 "layer":[
  {"data":{"name":"e_c"},"mark":{"type":"line","color":"#111","strokeWidth":2.6},
   "encoding":{
    "x":{"field":"t","type":"quantitative","scale":{"domain":[0,5],"nice":false,"zero":false},"axis":{"values":[0,1,2,3,4,5],"labelExpr":"datum.value == 4 ? '17:48' : '17:' + (45 + datum.value)","title":null}},
    "y":{"field":"y","type":"quantitative","scale":{"domain":[17.2,18.2],"nice":false,"zero":false},"axis":{"orient":"left","values":[17.2,17.4,17.6,17.8,18.0,18.2],"labelExpr":"replace(format(datum.value,'.1f'),'.',',')","title":null}}}},
  {"data":{"name":"e_v"},"mark":{"type":"line","color":"#111","strokeWidth":2,"strokeDash":[2,3]},
   "encoding":{
    "x":{"field":"t","type":"quantitative"},
    "y":{"field":"y","type":"quantitative","scale":{"domain":[1.1315,1.1335],"nice":false,"zero":false},"axis":{"orient":"right","values":[1.1315,1.132,1.1325,1.133,1.1335],"labelExpr":"replace(format(datum.value,'.4f'),'.',',')","title":null}}}},
  {"data":{"values":[{}]},"mark":{"type":"text","font":"Liberation Serif","fontSize":24,"align":"right","baseline":"middle","color":"#111"},
   "encoding":{"x":{"datum":4.69,"type":"quantitative"},"y":{"datum":18.2,"type":"quantitative","scale":{"domain":[17.2,18.2],"nice":false,"zero":false},"axis":null},"text":{"value":"25.05.2022 г."}}}
 ],
 "resolve":{"scale":{"y":"independent"}}},
{"width":474,"height":223,"title":{"text":"е","subtitle":" ","subtitleFontSize":15,"subtitlePadding":0},
 "layer":[
  {"data":{"name":"f_c"},"mark":{"type":"line","color":"#111","strokeWidth":2.6},
   "encoding":{
    "x":{"field":"t","type":"quantitative","scale":{"domain":[0,5],"nice":false,"zero":false},"axis":{"values":[0,1,2,3,4,5],"labelExpr":"'15:0' + (2 + datum.value)","title":null}},
    "y":{"field":"y","type":"quantitative","scale":{"domain":[23.6,24.8],"nice":false,"zero":false},"axis":{"orient":"left","values":[23.6,23.8,24.0,24.2,24.4,24.6,24.8],"labelExpr":"replace(format(datum.value,'.1f'),'.',',')","title":null}}}},
  {"data":{"name":"f_v"},"mark":{"type":"line","color":"#111","strokeWidth":2,"strokeDash":[2,3]},
   "encoding":{
    "x":{"field":"t","type":"quantitative"},
    "y":{"field":"y","type":"quantitative","scale":{"domain":[1.137,1.1395],"nice":false,"zero":false},"axis":{"orient":"right","values":[1.137,1.1375,1.138,1.1385,1.139,1.1395],"labelExpr":"replace(format(datum.value,'.4f'),'.',',')","title":null}}}},
  {"data":{"values":[{}]},"mark":{"type":"text","font":"Liberation Serif","fontSize":24,"align":"left","baseline":"middle","color":"#111"},
   "encoding":{"x":{"datum":0.29,"type":"quantitative"},"y":{"datum":24.8,"type":"quantitative","scale":{"domain":[23.6,24.8],"nice":false,"zero":false},"axis":null},"text":{"value":"25.05.2022 г."}}}
 ],
 "resolve":{"scale":{"y":"independent"}}},
{"width":474,"height":220,"title":{"text":"ж","offset":5},
 "layer":[
  {"data":{"name":"g_c"},"mark":{"type":"line","color":"#111","strokeWidth":2.6},
   "encoding":{
    "x":{"field":"t","type":"quantitative","scale":{"domain":[0,5],"nice":false,"zero":false},"axis":{"values":[0,1,2,3,4,5],"labelExpr":"'19:' + (35 + datum.value)","title":"Время","titlePadding":4}},
    "y":{"field":"y","type":"quantitative","scale":{"domain":[37.4,39.0],"nice":false,"zero":false},"axis":{"orient":"left","values":[37.4,37.6,37.8,38.0,38.2,38.4,38.6,38.8,39.0],"labelExpr":"replace(format(datum.value,'.1f'),'.',',')","title":null}}}},
  {"data":{"name":"g_v"},"mark":{"type":"line","color":"#111","strokeWidth":2,"strokeDash":[2,3]},
   "encoding":{
    "x":{"field":"t","type":"quantitative"},
    "y":{"field":"y","type":"quantitative","scale":{"domain":[1.127,1.13],"nice":false,"zero":false},"axis":{"orient":"right","values":[1.127,1.1275,1.128,1.1285,1.129,1.1295,1.13],"labelExpr":"replace(format(datum.value,'.4f'),'.',',')","title":null}}}},
  {"data":{"values":[{}]},"mark":{"type":"text","font":"Liberation Serif","fontSize":24,"align":"right","baseline":"middle","color":"#111"},
   "encoding":{"x":{"datum":4.69,"type":"quantitative"},"y":{"datum":39.0,"type":"quantitative","scale":{"domain":[37.4,39.0],"nice":false,"zero":false},"axis":null},"text":{"value":"24.05.2022 г."}}}
 ],
 "resolve":{"scale":{"y":"independent"}}},
{"width":474,"height":220,"title":{"text":"з","offset":5},
 "layer":[
  {"data":{"name":"h_c"},"mark":{"type":"line","color":"#111","strokeWidth":2.6},
   "encoding":{
    "x":{"field":"t","type":"quantitative","scale":{"domain":[0,5],"nice":false,"zero":false},"axis":{"values":[0,1,2,3,4,5],"labelExpr":"'20:0' + (1 + datum.value)","title":"Время","titlePadding":4}},
    "y":{"field":"y","type":"quantitative","scale":{"domain":[68.0,73.6],"nice":false,"zero":false},"axis":{"orient":"left","values":[68.0,68.8,69.6,70.4,71.2,72.0,72.8,73.6],"labelExpr":"replace(format(datum.value,'.1f'),'.',',')","title":null}}}},
  {"data":{"name":"h_v"},"mark":{"type":"line","color":"#111","strokeWidth":2,"strokeDash":[2,3]},
   "encoding":{
    "x":{"field":"t","type":"quantitative"},
    "y":{"field":"y","type":"quantitative","scale":{"domain":[1.27,1.282],"nice":false,"zero":false},"axis":{"orient":"right","values":[1.27,1.272,1.274,1.276,1.278,1.28,1.282],"labelExpr":"replace(format(datum.value,'.3f'),'.',',')","title":null}}}},
  {"data":{"values":[{}]},"mark":{"type":"text","font":"Liberation Serif","fontSize":24,"align":"left","baseline":"middle","color":"#111"},
   "encoding":{"x":{"datum":0.29,"type":"quantitative"},"y":{"datum":73.6,"type":"quantitative","scale":{"domain":[68.0,73.6],"nice":false,"zero":false},"axis":null},"text":{"value":"26.05.2022 г."}}}
 ],
 "resolve":{"scale":{"y":"independent"}}}
],
"config": {
 "view": {"stroke": null},
 "font": "Liberation Serif",
 "axis": {"domainColor":"#111","domainWidth":1.6,"tickColor":"#111","tickWidth":1.5,"tickSize":-6,"labelFont":"Liberation Serif","labelFontSize":22,"labelColor":"#111","labelFlush":false,"labelOverlap":false,"labelBound":false,"grid":false,"titleFont":"Liberation Serif","titleFontSize":22,"titleFontWeight":"normal","titleColor":"#111"},
 "axisLeft": {"labelPadding": 17},
 "axisRight": {"labelPadding": 14},
 "axisBottom": {"labelPadding": 20},
 "title": {"font":"Liberation Serif","fontSize":24,"fontStyle":"italic","fontWeight":"normal","orient":"bottom","offset":8,"frame":"group","anchor":"middle","color":"#111","dx":12}
}
}
